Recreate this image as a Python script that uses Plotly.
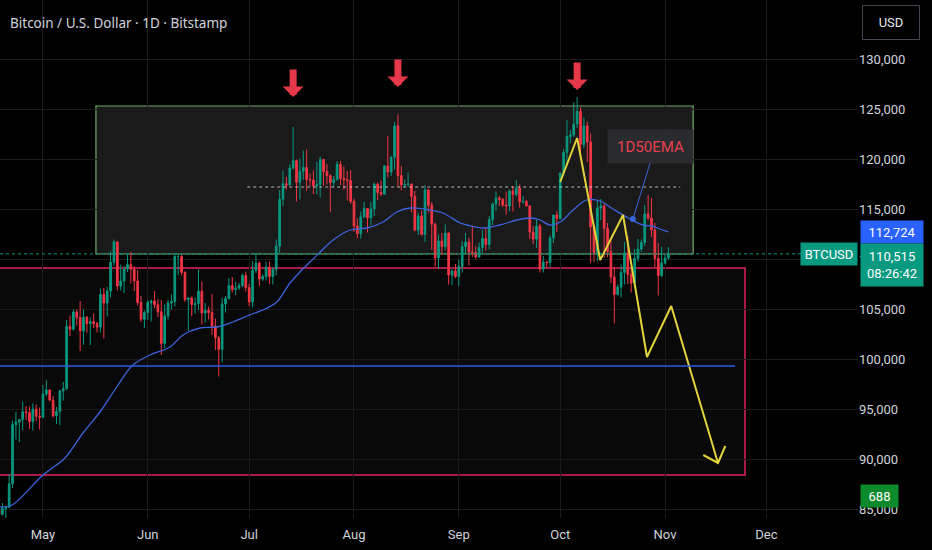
import pandas as pd
import plotly.graph_objects as go

# daily BTCUSD candles, 2025-04-18 .. 2025-11-02
opens = [
    84950, 84450, 85060, 85170, 87520, 93440, 93700, 93940, 94720, 94650, 93750, 94980, 94280,
    94170, 96490, 96910, 95890, 94320, 94750, 96830, 97030, 103240, 102970, 104700, 104150, 102810, 104170, 103540, 103740,
    103550, 103190, 106450, 105600, 106790, 109670, 111700, 107300, 107800, 109000, 109440, 108990, 107800, 105640, 103980,
    104640, 105640, 105800, 105430, 104730, 101560, 104310, 105600, 105750, 110250, 110260, 108650, 105950, 106090, 105440,
    105550, 106790, 104600, 104850, 104650, 103300, 102120, 100960, 105500, 106050, 107340, 106950, 107100, 107350, 108350,
    107150, 105700, 108850, 109600, 108000, 108250, 109200, 108250, 108950, 111300, 115980, 117520, 117420, 119100, 119840,
    117680, 118780, 119170, 117940, 117900, 117300, 117440, 119950, 118750, 118340, 117640, 117940, 119450, 118060, 117920, 117840,
    115760, 113300, 112540, 114210, 115050, 114120, 115000, 117500, 116650, 116480, 119300, 118700, 120170, 123320, 118350,
    117400, 117450, 117500, 116250, 112900, 114300, 112450, 116900, 115370, 113480, 110100, 111800, 111250, 112600, 108400, 108800,
    108250, 109250, 111250, 111700, 110700, 110650, 110200, 111150, 112050, 111450, 113950, 115500, 116100, 115950, 115400,
    115300, 116800, 116450, 117100, 115700, 115750, 115300, 112700, 112000, 113300, 109000, 109700, 109650, 112100, 114400,
    114050, 118600, 120650, 122250, 122400, 123500, 124750, 121450, 123300, 121700, 113200, 110650, 115100, 115300, 113050,
    110750, 108200, 106450, 107200, 108650, 110600, 108450, 107600, 110050, 111000, 111650, 114500, 114100, 112900, 110050, 108350,
    109600, 110100,
]
highs = [
    85450, 85600, 85300, 88500, 93850, 94700, 94000, 95750, 95300, 95250, 95550, 95450, 95150,
    97400, 97900, 96950, 96300, 95200, 96900, 97700, 103900, 104350, 104950, 104950, 105800, 104950, 104300, 104150,
    104550, 103700, 107050, 107100, 107200, 110750, 111950, 111800, 109450, 109300, 110400, 110700, 109300, 108900, 106300, 104850,
    105900, 105950, 106800, 106000, 105900, 105450, 105900, 106450, 110500, 110550, 110400, 108800, 106200, 106250, 106150,
    108950, 107750, 105600, 105250, 106500, 104050, 102300, 106100, 106300, 108100, 108200, 107700, 107600, 108550, 108750,
    107550, 109800, 110600, 109750, 108450, 109700, 109750, 109200, 111950, 116900, 118850, 118200, 119450, 123200, 119950,
    120050, 120850, 120950, 118550, 118850, 119700, 120250, 120000, 119500, 118450, 118300, 119800, 119800, 119250, 118800, 118900,
    116050, 114050, 114750, 115700, 115100, 115700, 117650, 117650, 117850, 119400, 122300, 120300, 123700, 124450, 119300,
    117950, 118650, 117550, 116800, 114600, 114850, 117400, 117000, 115700, 113650, 112450, 112600, 113450, 112650, 108950, 109500,
    109900, 111800, 112600, 112100, 113350, 111300, 111650, 112900, 113200, 114300, 115650, 116750, 116300, 116100, 116750,
    116950, 117300, 117900, 117450, 116300, 115900, 115400, 113300, 113950, 113500, 110300, 109800, 112350, 114450, 114800,
    118650, 121000, 123900, 122900, 125650, 126200, 125150, 124150, 123750, 122550, 113400, 115800, 116000, 115500, 113600,
    111900, 109200, 107450, 109450, 111700, 112300, 109100, 111000, 112000, 111950, 115400, 116400, 116100, 113600, 111600, 111200,
    110550, 111200,
]
lows = [
    84100, 84350, 83950, 85100, 87100, 91950, 91700, 92900, 93900, 93000, 92850, 93800, 92950,
    94100, 96300, 95750, 94150, 93500, 93400, 95850, 96900, 102300, 102850, 103350, 100800, 101450, 102650, 101400,
    103100, 102650, 102650, 102050, 104250, 106150, 109300, 106850, 106850, 106600, 108700, 107550, 106800, 105350, 103700, 103100,
    103900, 103750, 105100, 104200, 100400, 101100, 103950, 104950, 105250, 108400, 108350, 105700, 102800, 104300, 104550,
    104950, 103450, 103650, 103950, 102400, 100900, 98250, 99700, 104650, 105950, 106650, 106400, 106900, 107200, 106750,
    105300, 105150, 108600, 107300, 107800, 107850, 107500, 107450, 108350, 110600, 115300, 116950, 117300, 118950, 115750,
    115950, 117900, 116800, 117300, 116500, 116450, 116150, 117300, 117450, 114700, 117200, 117850, 117400, 116950, 115850, 115500,
    112700, 112100, 112000, 114100, 112650, 113400, 114300, 115900, 116300, 116450, 118150, 118300, 118950, 117200, 116850,
    117150, 117200, 114650, 112750, 112400, 112350, 111700, 114650, 110900, 109250, 109000, 110400, 110900, 107450, 107400, 108100,
    107300, 108650, 110600, 109350, 110200, 110050, 110150, 110650, 110850, 110950, 113400, 114800, 115300, 115200, 114450,
    114800, 114750, 116250, 115150, 115550, 115250, 112000, 111500, 111100, 108650, 108650, 109100, 109200, 111600, 112700,
    113950, 118300, 119350, 121600, 122200, 123100, 120650, 121100, 119700, 109600, 109700, 109800, 113900, 110100, 110200,
    107600, 103550, 106350, 106150, 107450, 107500, 106650, 107500, 109700, 110700, 111300, 113850, 112200, 109200, 106350, 108200,
    109450, 109900,
]
closes = [
    84450, 85060, 85170, 87520, 93440, 93700, 93940, 94720, 94650, 93750, 94980, 94280, 94170,
    96490, 96910, 95890, 94320, 94750, 96830, 97030, 103240, 102970, 104700, 104150, 102810, 104170, 103540, 103740,
    103550, 103190, 106450, 105600, 106790, 109670, 111700, 107300, 107800, 109000, 109440, 108990, 107800, 105640, 103980, 104640,
    105640, 105800, 105430, 104730, 101560, 104310, 105600, 105750, 110250, 110260, 108650, 105950, 106090, 105440, 105550,
    106790, 104600, 104850, 104650, 103300, 102120, 100960, 105500, 106050, 107340, 106950, 107100, 107350, 108350, 107150,
    105700, 108850, 109600, 108000, 108250, 109200, 108250, 108950, 111300, 115980, 117520, 117420, 119100, 119840, 117680,
    118780, 119170, 117940, 117900, 117300, 117440, 119950, 118750, 118340, 117640, 117940, 119450, 118060, 117920, 117840, 115760,
    113300, 112540, 114210, 115050, 114120, 115000, 117500, 116650, 116480, 119300, 118700, 120170, 123320, 118350, 117400,
    117450, 117500, 116250, 112900, 114300, 112450, 116900, 115370, 113480, 110100, 111800, 111250, 112600, 108400, 108800, 108250,
    109250, 111250, 111700, 110700, 110650, 110200, 111150, 112050, 111450, 113950, 115500, 116100, 115950, 115400, 115300,
    116800, 116450, 117100, 115700, 115750, 115300, 112700, 112000, 113300, 109000, 109700, 109650, 112100, 114400, 114050,
    118600, 120650, 122250, 122400, 123500, 124750, 121450, 123300, 121700, 113200, 110650, 115100, 115300, 113050, 110750,
    108200, 106450, 107200, 108650, 110600, 108450, 107600, 110050, 111000, 111650, 114500, 114100, 112900, 110050, 108350, 109600,
    110100, 110515,
]

# 1D 50 EMA
ema_dates = ["2025-04-18 08:00", "2025-04-21 20:00", "2025-05-01", "2025-05-07 12:00", "2025-05-12 20:00",
             "2025-05-17 20:00", "2025-05-22 20:00", "2025-05-27 14:00", "2025-06-01 16:00", "2025-06-07 14:00",
             "2025-06-11 10:00", "2025-06-16 10:00", "2025-06-21 12:00", "2025-06-26 04:00", "2025-07-01 04:00",
             "2025-07-06 08:00", "2025-07-09 04:00", "2025-07-13 02:00", "2025-07-16", "2025-07-19", "2025-07-22",
             "2025-07-25 20:00", "2025-07-30 20:00", "2025-08-04 20:00", "2025-08-09 14:00", "2025-08-13 16:00",
             "2025-08-17 14:00", "2025-08-23 12:00", "2025-08-27 08:00", "2025-09-01 10:00", "2025-09-03 10:00",
             "2025-09-08 04:00", "2025-09-13 04:00", "2025-09-18 04:00", "2025-09-22 02:00", "2025-09-25",
             "2025-09-28", "2025-10-01", "2025-10-04 20:00", "2025-10-08 20:00", "2025-10-12 20:00",
             "2025-10-16 14:00", "2025-10-21 16:00", "2025-10-25 12:00", "2025-10-28 04:00", "2025-10-30 12:00",
             "2025-11-02"]
ema_values = [85200, 85400, 88400, 90100, 92600, 94700, 97200, 99400, 100400, 101200,
              102400, 103100, 103200, 103700, 104400, 105100, 105700, 107600, 108700, 109700, 110700,
              111900, 112900, 113100, 113700, 114700, 115100, 114900, 114600, 113600, 113400,
              113100, 113400, 113900, 114100, 113900, 113400, 113700, 114900, 115900, 115800,
              115000, 114000, 113400, 113300, 113000, 112724]

# yellow projection path and its open arrowhead
proj_dates = ["2025-10-01", "2025-10-06", "2025-10-12 20:00", "2025-10-19 14:00",
              "2025-10-26 16:00", "2025-11-02 20:00", "2025-11-16 16:00"]
proj_values = [117700, 122100, 109900, 114400, 100200, 105300, 89600]
head_dates = ["2025-11-12 08:00", "2025-11-16 16:00", "2025-11-18 20:00"]
head_values = [90400, 89600, 91300]

# red "top" arrows
arrow_dates = ["2025-07-14", "2025-08-14", "2025-10-06"]
arrow_tips = [126200, 127200, 126900]

# drawn zones / levels
range_box_x = ["2025-05-16 16:00", "2025-11-09 08:00"]
range_box_y = [110500, 125300]
demand_box_x = ["2025-04-01", "2025-11-24 16:00"]
demand_box_y = [88400, 109100]
support_x = ["2025-04-01", "2025-11-21 16:00"]
support_price = 99300
mid_x = ["2025-06-30 10:00", "2025-11-05 12:00"]
mid_price = 117200
callout_x = ["2025-10-22 12:00", "2025-10-27 14:00"]
callout_y = [114000, 119600]
label_date, label_price = "2025-10-27 14:00", 121300

last_price = 110515
ema_last = 112724
volume_last = 688

month_ticks = ["2025-05-01", "2025-06-01", "2025-07-01", "2025-08-01",
               "2025-09-01", "2025-10-01", "2025-11-01", "2025-12-01"]
month_labels = ["May", "Jun", "Jul", "Aug", "Sep", "Oct", "Nov", "Dec"]
price_ticks = [85000, 90000, 95000, 100000, 105000, 110000, 115000, 120000, 125000, 130000]

UP = "#089981"
DOWN = "#f23645"
EMA_BLUE = "#3d63dd"
YELLOW = "#e2d23c"
TEXT = "#d1d4dc"
GRID = "#1b1b1b"

dates = pd.date_range("2025-04-18", periods=len(closes), freq="D")

fig = go.Figure()

fig.add_trace(go.Candlestick(
    x=dates, open=opens, high=highs, low=lows, close=closes,
    increasing=dict(line=dict(color=UP, width=1), fillcolor=UP),
    decreasing=dict(line=dict(color=DOWN, width=1), fillcolor=DOWN),
    whiskerwidth=0, hoverinfo="skip", showlegend=False,
))

fig.add_trace(go.Scatter(x=ema_dates, y=ema_values, mode="lines",
                         line=dict(color=EMA_BLUE, width=1.3, shape="spline"),
                         hoverinfo="skip", showlegend=False))

fig.add_trace(go.Scatter(x=proj_dates, y=proj_values, mode="lines",
                         line=dict(color=YELLOW, width=2),
                         hoverinfo="skip", showlegend=False))
fig.add_trace(go.Scatter(x=head_dates, y=head_values, mode="lines",
                         line=dict(color=YELLOW, width=2),
                         hoverinfo="skip", showlegend=False))

# dot where the label callout touches the EMA
fig.add_trace(go.Scatter(x=callout_x[:1], y=callout_y[:1], mode="markers",
                         marker=dict(color=EMA_BLUE, size=6),
                         hoverinfo="skip", showlegend=False))

# zones
fig.add_shape(type="rect", x0=demand_box_x[0], x1=demand_box_x[1],
              y0=demand_box_y[0], y1=demand_box_y[1], layer="below",
              line=dict(color="#e0245e", width=1.5), fillcolor="rgba(255,255,255,0.035)")
fig.add_shape(type="rect", x0=range_box_x[0], x1=range_box_x[1],
              y0=range_box_y[0], y1=range_box_y[1], layer="below",
              line=dict(color="rgba(129,199,120,0.85)", width=1.2), fillcolor="rgba(255,255,255,0.10)")
fig.add_shape(type="line", x0=support_x[0], x1=support_x[1], y0=support_price, y1=support_price,
              line=dict(color="#2f5bea", width=1.5))
fig.add_shape(type="line", x0=mid_x[0], x1=mid_x[1], y0=mid_price, y1=mid_price,
              line=dict(color="rgba(220,220,220,0.8)", width=1, dash="dot"))
fig.add_shape(type="line", xref="paper", x0=0, x1=1, y0=last_price, y1=last_price,
              line=dict(color=UP, width=1, dash="dot"))
fig.add_shape(type="line", x0=callout_x[0], x1=callout_x[1], y0=callout_y[0], y1=callout_y[1],
              line=dict(color=EMA_BLUE, width=1))

annotations = []

# red arrows over the three tops
for d, p in zip(arrow_dates, arrow_tips):
    annotations.append(dict(x=d, y=p, xref="x", yref="y", text="", showarrow=True,
                            ax=0, ay=-29, arrowhead=1, arrowwidth=7, arrowsize=0.5,
                            arrowcolor="#e53949"))

annotations.append(dict(x=label_date, y=label_price, xref="x", yref="y", text="1D50EMA",
                        showarrow=False, font=dict(family="Roboto", size=15, color="#e8404f"),
                        bgcolor="#2a2b2e", width=79, height=27, borderpad=3))

annotations.append(dict(x=0, y=1, xref="paper", yref="paper", xanchor="left", yanchor="top",
                        xshift=8, yshift=-12, showarrow=False,
                        text="Bitcoin / U.S. Dollar · 1D · Bitstamp",
                        font=dict(family="Noto Sans", size=13.5, color=TEXT)))

annotations.append(dict(x=1, y=1, xref="paper", yref="paper", xanchor="left", yanchor="top",
                        xshift=4, yshift=-5, showarrow=False, text="USD",
                        font=dict(family="Roboto", size=13, color="#e8eaed"),
                        bgcolor="#000000", bordercolor="#434651", borderwidth=1,
                        width=50, height=27, borderpad=3))

# price scale badges
annotations.append(dict(x=1, y=ema_last, xref="paper", yref="y", xanchor="left", yanchor="middle",
                        xshift=2, showarrow=False, text=f"{ema_last:,}",
                        font=dict(family="Roboto", size=13, color="white"),
                        bgcolor="#2962ff", width=58, height=18, borderpad=2))
annotations.append(dict(x=1, y=last_price, xref="paper", yref="y", xanchor="left", yanchor="top",
                        xshift=2, yshift=11, showarrow=False,
                        text=f"{last_price:,}<br>08:26:42",
                        font=dict(family="Roboto", size=13, color="white"),
                        bgcolor=UP, width=58, height=38, borderpad=2))
annotations.append(dict(x=1, y=last_price, xref="paper", yref="y", xanchor="right", yanchor="middle",
                        xshift=0, showarrow=False, text="BTCUSD",
                        font=dict(family="Roboto", size=13, color="white"),
                        bgcolor=UP, width=52, height=18, borderpad=2))
annotations.append(dict(x=1, y=86300, xref="paper", yref="y", xanchor="left", yanchor="middle",
                        xshift=2, showarrow=False, text=str(volume_last),
                        font=dict(family="Roboto", size=13, color="white"),
                        bgcolor="#0c8a2c", width=33, height=18, borderpad=2))

fig.update_layout(
    width=932, height=550,
    margin=dict(l=0, r=74, t=0, b=32),
    paper_bgcolor="#000000", plot_bgcolor="#000000",
    showlegend=False,
    annotations=annotations,
    xaxis=dict(range=["2025-04-18 07:00", "2025-12-28 02:00"],
               rangeslider=dict(visible=False),
               tickvals=month_ticks, ticktext=month_labels,
               tickfont=dict(family="Roboto", size=13, color=TEXT),
               ticklabelstandoff=7,
               showgrid=True, gridcolor=GRID, gridwidth=1,
               zeroline=False, showline=False, ticks=""),
    yaxis=dict(side="right", range=[84100, 135900],
               tickvals=price_ticks, ticktext=[f"{v:,}" for v in price_ticks],
               tickfont=dict(family="Roboto", size=13, color=TEXT),
               showgrid=True, gridcolor=GRID, gridwidth=1,
               zeroline=False, showline=False, ticks=""),
)

# drop the browser's default page margin so the chart sits flush in the window
fig.write_html("out.html", config={"displayModeBar": False},
               post_script="document.body.style.margin='0';document.body.style.background='#000';")
